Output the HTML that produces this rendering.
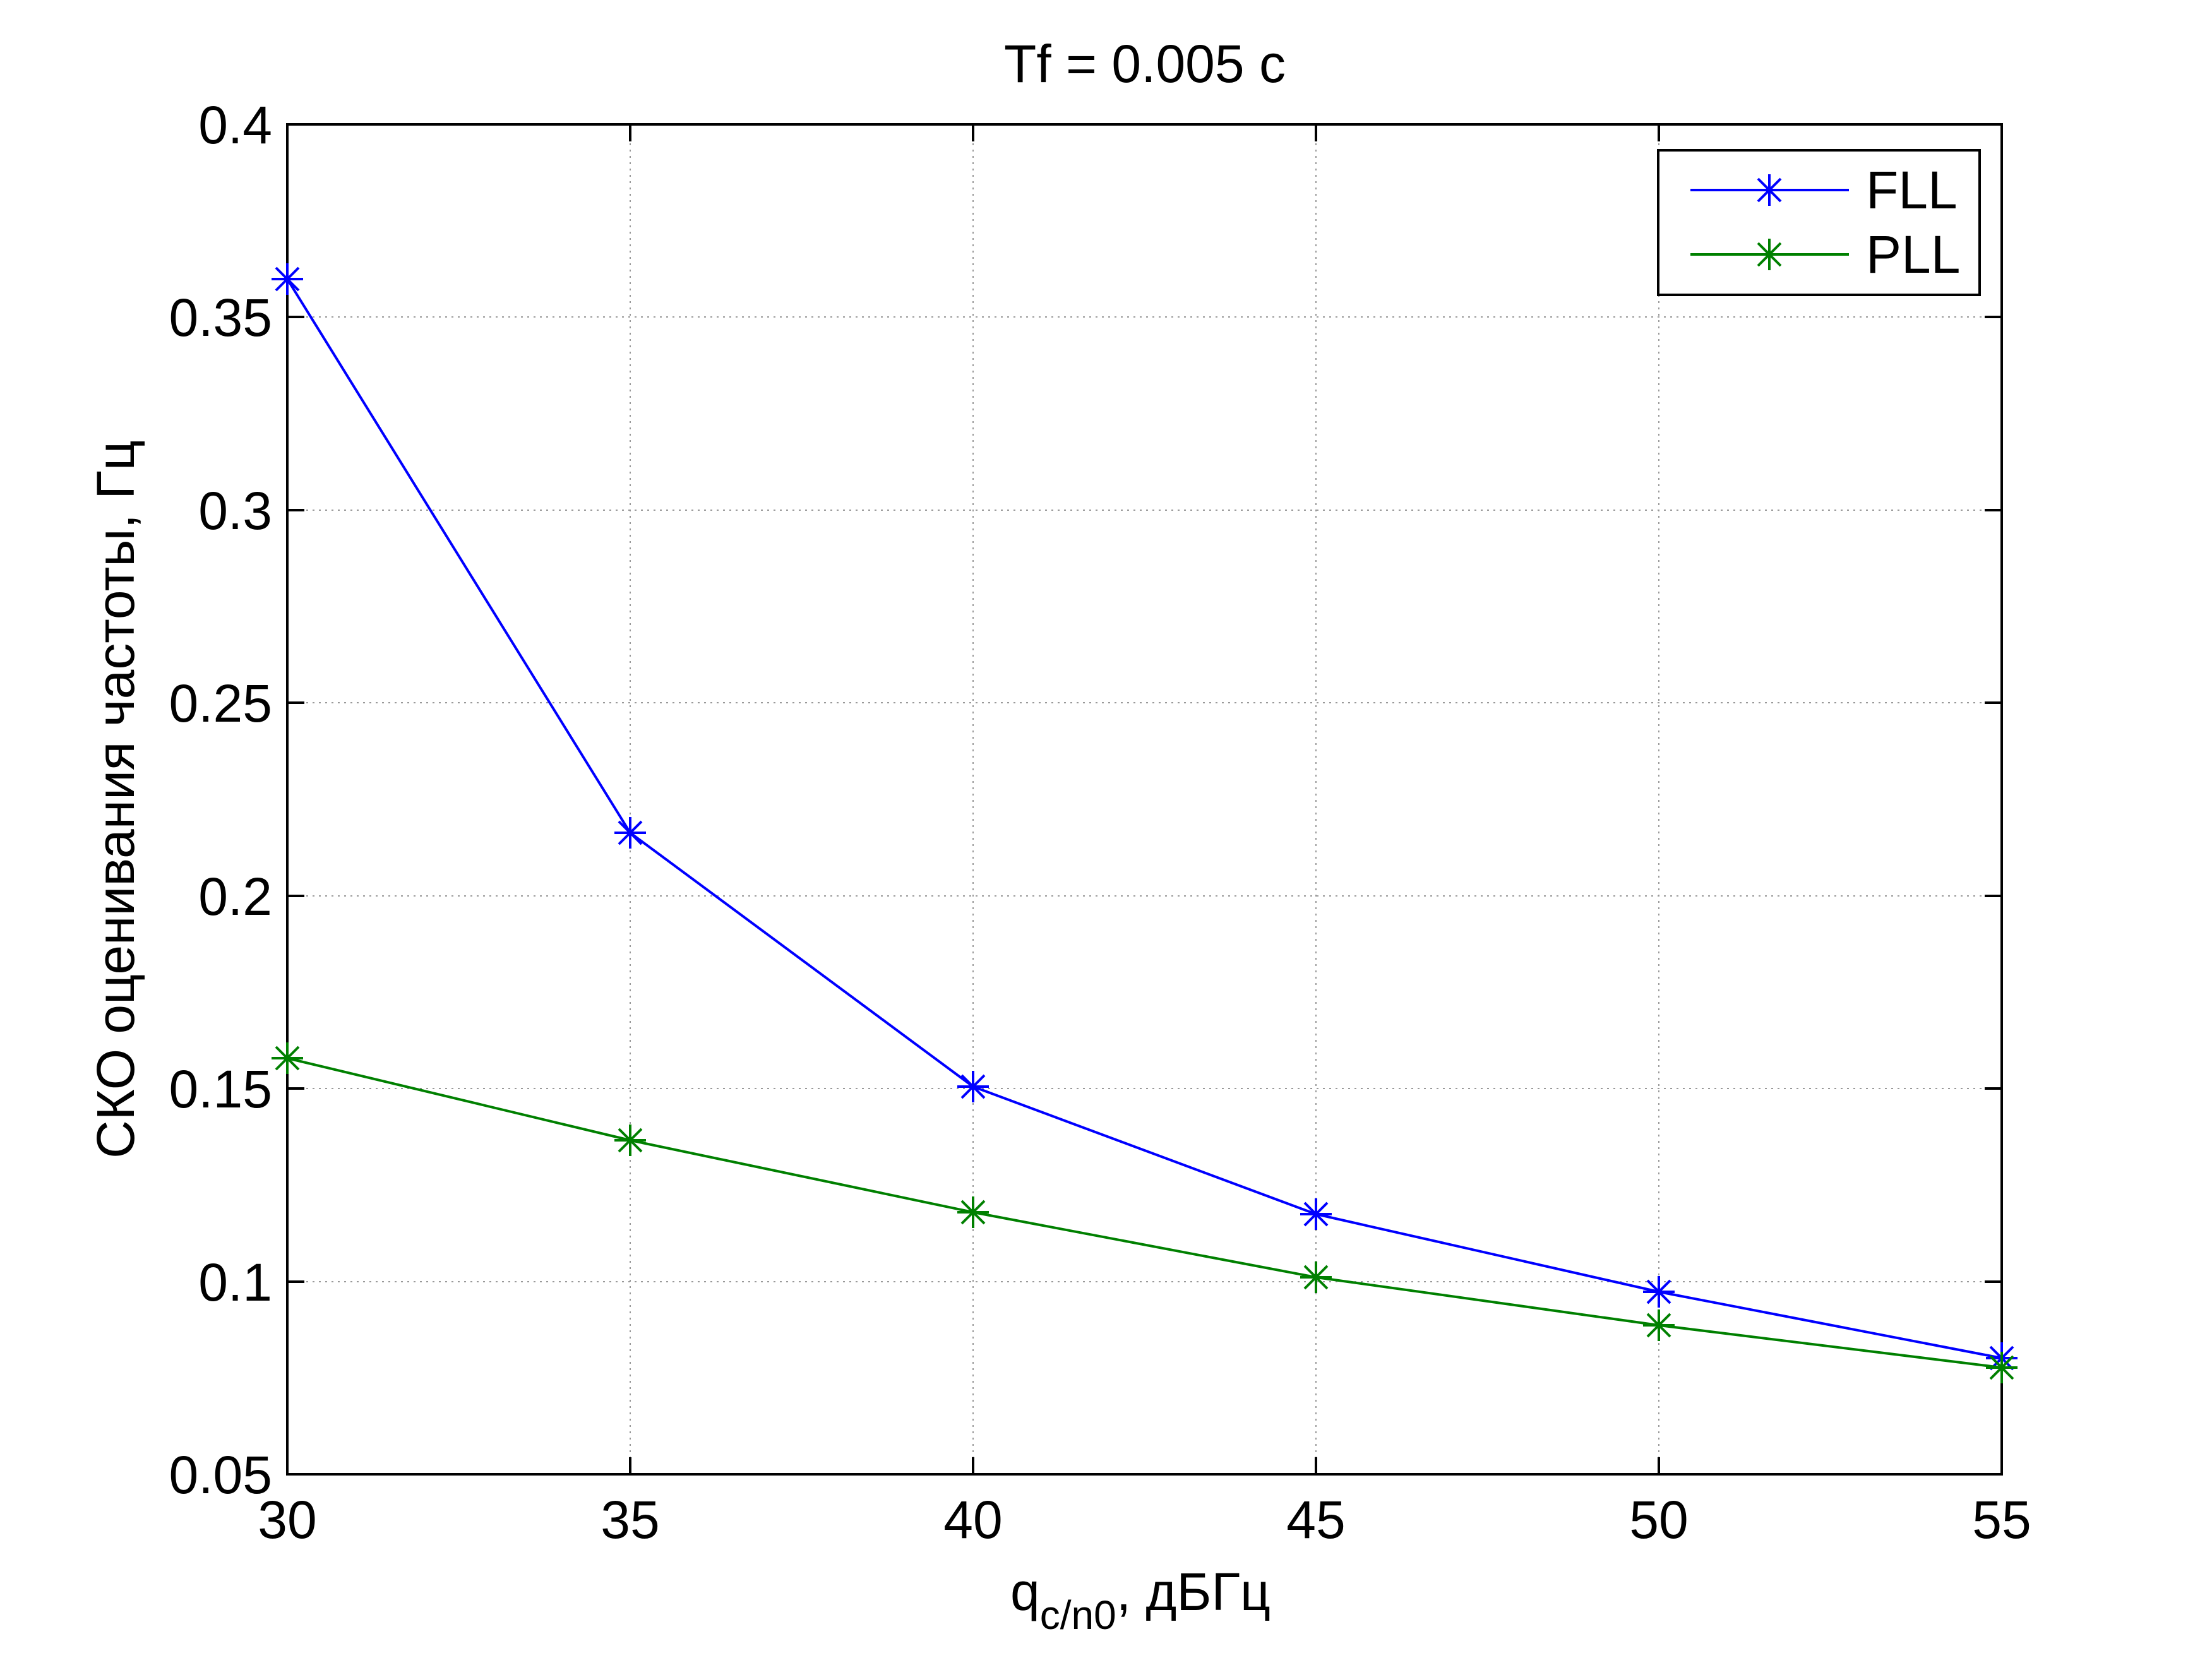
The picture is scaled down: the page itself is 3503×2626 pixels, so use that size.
<!DOCTYPE html>
<html><head><meta charset="utf-8"><style>body{margin:0;background:#fff}svg{display:block}</style></head><body>
<svg width="3503" height="2626" xmlns="http://www.w3.org/2000/svg" font-family="Liberation Sans, Noto Sans CJK SC, sans-serif">
<rect width="3503" height="2626" fill="#fff"/>
<g stroke="#999" stroke-width="2" stroke-dasharray="3,7">
<line x1="998" y1="197" x2="998" y2="2335"/><line x1="1541" y1="197" x2="1541" y2="2335"/><line x1="2084" y1="197" x2="2084" y2="2335"/><line x1="2627" y1="197" x2="2627" y2="2335"/>
<line x1="455" y1="502" x2="3170" y2="502"/><line x1="455" y1="808" x2="3170" y2="808"/><line x1="455" y1="1113" x2="3170" y2="1113"/><line x1="455" y1="1419" x2="3170" y2="1419"/><line x1="455" y1="1724" x2="3170" y2="1724"/><line x1="455" y1="2030" x2="3170" y2="2030"/>
</g>
<g stroke="#000" stroke-width="4">
<rect x="455" y="197" width="2715" height="2138" fill="none"/>
<path d="M998 197v27M1541 197v27M2084 197v27M2627 197v27M998 2335v-27M1541 2335v-27M2084 2335v-27M2627 2335v-27M455 502h27M455 808h27M455 1113h27M455 1419h27M455 1724h27M455 2030h27M3170 502h-27M3170 808h-27M3170 1113h-27M3170 1419h-27M3170 1724h-27M3170 2030h-27"/>
</g>
<defs>
<path id="st" d="M-25 0H25M0 -25V25M-18 -18L18 18M-18 18L18 -18"/>
</defs>
<g stroke="#0000ff" stroke-width="4" fill="none">
<polyline points="455,442 998,1319 1541,1721 2084,1923 2627,2046 3170,2151"/>
<use href="#st" x="455" y="442"/><use href="#st" x="998" y="1319"/><use href="#st" x="1541" y="1721"/><use href="#st" x="2084" y="1923"/><use href="#st" x="2627" y="2046"/><use href="#st" x="3170" y="2151"/>
</g>
<g stroke="#008000" stroke-width="4" fill="none">
<polyline points="455,1676 998,1806 1541,1920 2084,2023 2627,2099 3170,2166"/>
<use href="#st" x="455" y="1676"/><use href="#st" x="998" y="1806"/><use href="#st" x="1541" y="1920"/><use href="#st" x="2084" y="2023"/><use href="#st" x="2627" y="2099"/><use href="#st" x="3170" y="2166"/>
</g>
<rect x="2626" y="238" width="509" height="229" fill="#fff" stroke="#000" stroke-width="4"/>
<g stroke="#0000ff" stroke-width="4"><line x1="2677" y1="301" x2="2928" y2="301"/><use href="#st" x="2802" y="301"/></g>
<g stroke="#008000" stroke-width="4"><line x1="2677" y1="403" x2="2928" y2="403"/><use href="#st" x="2802" y="403"/></g>
<g font-size="84" fill="#000">
<text x="2955" y="330">FLL</text><text x="2955" y="432">PLL</text>
<g text-anchor="end">
<text x="431" y="227">0.4</text><text x="431" y="532">0.35</text><text x="431" y="838">0.3</text><text x="431" y="1143">0.25</text><text x="431" y="1449">0.2</text><text x="431" y="1754">0.15</text><text x="431" y="2060">0.1</text><text x="431" y="2365">0.05</text>
</g>
<g text-anchor="middle">
<text x="455" y="2436">30</text><text x="998" y="2436">35</text><text x="1541" y="2436">40</text><text x="2084" y="2436">45</text><text x="2627" y="2436">50</text><text x="3170" y="2436">55</text>
<text x="1813" y="130">Tf = 0.005 c</text>
<text transform="translate(212,1266) rotate(-90)">СКО оценивания частоты, Гц</text>
</g>
<text x="1600" y="2550">q<tspan font-size="64" dy="30">c/n0</tspan><tspan dy="-30">, дБГц</tspan></text>
</g>
</svg>
</body></html>
